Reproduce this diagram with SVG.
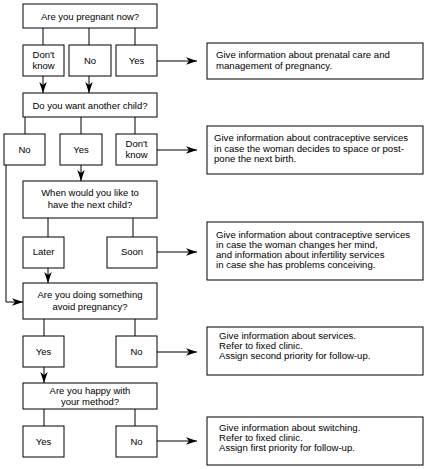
<svg xmlns="http://www.w3.org/2000/svg" width="427" height="469" viewBox="0 0 427 469">
<defs>
<style>
rect{fill:#fff;stroke:#000;stroke-width:1}
text{font-family:"Liberation Sans",Arial,sans-serif;font-size:9.5px;fill:#000}
.c{text-anchor:middle}
.i{font-size:9.6px}
.ln{fill:none;stroke:#000;stroke-width:1}
</style>
<marker id="ah" viewBox="0 0 12 8" refX="11" refY="4" markerWidth="12" markerHeight="8" markerUnits="userSpaceOnUse" orient="auto">
<path d="M11,4 L0,0.3 L3,4 L0,7.7 Z" fill="#000"/>
</marker>
</defs>
<rect x="0" y="0" width="427" height="469" style="fill:#fff;stroke:none"/>
<g id="connectors">
<path class="ln" d="M43,28V45M89,28V45M135,28V45"/>
<path class="ln" d="M157,61H197" marker-end="url(#ah)"/>
<path class="ln" d="M43,76V93" marker-end="url(#ah)"/>
<path class="ln" d="M89,76V93" marker-end="url(#ah)"/>
<path class="ln" d="M25,117V134M81,117V134M135,117V134"/>
<path class="ln" d="M157,150H197" marker-end="url(#ah)"/>
<path class="ln" d="M81,165V181" marker-end="url(#ah)"/>
<path class="ln" d="M48,218V237M133,218V237"/>
<path class="ln" d="M157,252H197" marker-end="url(#ah)"/>
<path class="ln" d="M48,268V283" marker-end="url(#ah)"/>
<path class="ln" d="M6,165V302H23" marker-end="url(#ah)"/>
<path class="ln" d="M44,319V336M135,319V336"/>
<path class="ln" d="M157,352H197" marker-end="url(#ah)"/>
<path class="ln" d="M44,367V383" marker-end="url(#ah)"/>
<path class="ln" d="M44,409V426M135,409V426"/>
<path class="ln" d="M157,441H197" marker-end="url(#ah)"/>
</g>
<g id="q1"><rect x="23" y="4" width="134" height="24"/><text class="c" x="90" y="19.5">Are you pregnant now?</text></g>
<g id="q1-dontknow"><rect x="23" y="45" width="41" height="31"/><text class="c" x="43.5" y="58">Don't</text><text class="c" x="43.5" y="69">know</text></g>
<g id="q1-no"><rect x="69" y="45" width="42" height="31"/><text class="c" x="90" y="64">No</text></g>
<g id="q1-yes"><rect x="116" y="45" width="41" height="31"/><text class="c" x="136.5" y="64">Yes</text></g>
<g id="info1"><rect x="207" y="43" width="216" height="36"/><text class="i" x="216" y="58">Give information about prenatal care and</text><text class="i" x="216" y="68.5">management of pregnancy.</text></g>
<g id="q2"><rect x="23" y="93" width="134" height="24"/><text class="c" x="90" y="108.5">Do you want another child?</text></g>
<g id="q2-no"><rect x="4" y="134" width="41" height="31"/><text class="c" x="24.5" y="153">No</text></g>
<g id="q2-yes"><rect x="60" y="134" width="42" height="31"/><text class="c" x="81" y="153">Yes</text></g>
<g id="q2-dontknow"><rect x="116" y="134" width="41" height="31"/><text class="c" x="136.5" y="147">Don't</text><text class="c" x="136.5" y="158">know</text></g>
<g id="info2"><rect x="207" y="126" width="216" height="48"/><text class="i" x="214" y="141">Give information about contraceptive services</text><text class="i" x="214" y="151.5">in case the woman decides to space or post-</text><text class="i" x="214" y="162">pone the next birth.</text></g>
<g id="q3"><rect x="23" y="181" width="134" height="37"/><text class="c" x="90" y="196">When would you like to</text><text class="c" x="90" y="208">have the next child?</text></g>
<g id="q3-later"><rect x="23" y="237" width="41" height="31"/><text class="c" x="43.5" y="255">Later</text></g>
<g id="q3-soon"><rect x="107" y="237" width="50" height="31"/><text class="c" x="132" y="255">Soon</text></g>
<g id="info3"><rect x="207" y="222" width="216" height="58"/><text class="i" x="216" y="238">Give information about contraceptive services</text><text class="i" x="216" y="248">in case the woman changes her mind,</text><text class="i" x="216" y="258">and information about infertility services</text><text class="i" x="216" y="268">in case she has problems conceiving.</text></g>
<g id="q4"><rect x="23" y="283" width="134" height="36"/><text class="c" x="90" y="298">Are you doing something</text><text class="c" x="90" y="310">avoid pregnancy?</text></g>
<g id="q4-yes"><rect x="23" y="336" width="41" height="31"/><text class="c" x="43.5" y="355">Yes</text></g>
<g id="q4-no"><rect x="116" y="336" width="41" height="31"/><text class="c" x="136.5" y="355">No</text></g>
<g id="info4"><rect x="207" y="327" width="216" height="48"/><text class="i" x="219" y="338.5">Give information about services.</text><text class="i" x="219" y="348.5">Refer to fixed clinic.</text><text class="i" x="219" y="358.5">Assign second priority for follow-up.</text></g>
<g id="q5"><rect x="23" y="383" width="134" height="26"/><text class="c" x="90" y="394">Are you happy with</text><text class="c" x="90" y="405">your method?</text></g>
<g id="q5-yes"><rect x="23" y="426" width="41" height="31"/><text class="c" x="43.5" y="445">Yes</text></g>
<g id="q5-no"><rect x="116" y="426" width="41" height="31"/><text class="c" x="136.5" y="445">No</text></g>
<g id="info5"><rect x="207" y="417" width="216" height="48"/><text class="i" x="219" y="430.5">Give information about switching.</text><text class="i" x="219" y="440.5">Refer to fixed clinic.</text><text class="i" x="219" y="450.5">Assign first priority for follow-up.</text></g>
</svg>
